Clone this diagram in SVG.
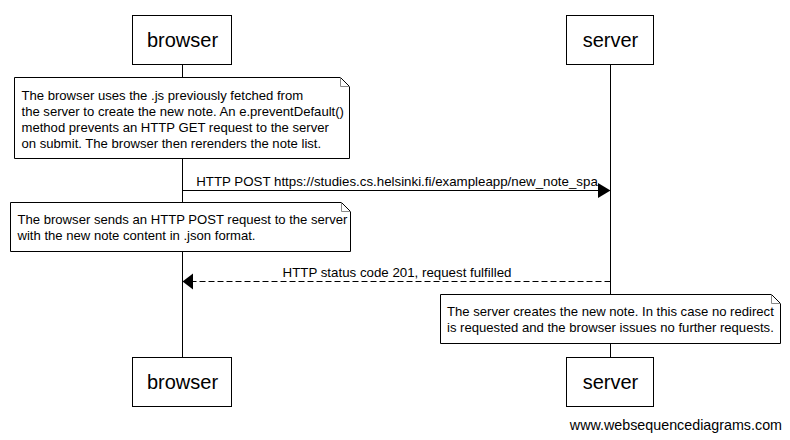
<svg xmlns="http://www.w3.org/2000/svg" width="790" height="440" viewBox="0 0 790 440">
<style>
.box{fill:#fff;stroke:#000;stroke-width:1}
.life{stroke:#000;stroke-width:1}
.note{fill:#fff;stroke:#000;stroke-width:1}
.fold{fill:none;stroke:#888;stroke-width:1}
.pname{font-family:"Liberation Sans",Arial,sans-serif;font-size:20px;fill:#000;text-anchor:middle}
.ntext{font-family:"Liberation Sans",Arial,sans-serif;font-size:13.1px;fill:#000}
.mlabel{font-family:"Liberation Sans",Arial,sans-serif;font-size:13.3px;fill:#000;text-anchor:middle}
.msg{stroke:#000;stroke-width:1;fill:none}
.dash{stroke-dasharray:6,3}
.wm{font-family:"Liberation Sans",Arial,sans-serif;font-size:14.3px;fill:#000;text-anchor:end}
</style>
<rect width="790" height="440" fill="#fff"/>
<g id="lifelines">
<line class="life" x1="182.5" y1="64" x2="182.5" y2="357"/>
<line class="life" x1="610.5" y1="64" x2="610.5" y2="357"/>
</g>
<g id="browser-top">
<rect class="box" x="132.5" y="15.5" width="99" height="49"/>
<text class="pname" x="182.5" y="47">browser</text>
</g>
<g id="server-top">
<rect class="box" x="566.5" y="15.5" width="87" height="49"/>
<text class="pname" x="610.5" y="47">server</text>
</g>
<g id="note1">
<path class="note" d="M14.5,77.5 H340.5 L349.5,86.5 V158.5 H14.5 Z"/>
<path class="fold" d="M340.5,77.5 V86.5 H349.5"/>
<text class="ntext" x="21.5" y="99.5">The browser uses the .js previously fetched from</text>
<text class="ntext" x="21.5" y="115.5">the server to create the new note. An e.preventDefault()</text>
<text class="ntext" x="21.5" y="131.5">method prevents an HTTP GET request to the server</text>
<text class="ntext" x="21.5" y="147.5">on submit. The browser then rerenders the note list.</text>
</g>
<g id="connectors">
<line class="msg" x1="182.5" y1="190.5" x2="599" y2="190.5"/>
<polygon points="598,183 610.5,190.5 598,198" fill="#000"/>
<text class="mlabel" x="397" y="186">HTTP POST https://studies.cs.helsinki.fi/exampleapp/new_note_spa</text>
<line class="msg dash" x1="610.5" y1="281.5" x2="192" y2="281.5"/>
<polygon points="193,273.5 182.5,281.5 193,289.5" fill="#000"/>
<text class="mlabel" x="397" y="277">HTTP status code 201, request fulfilled</text>
</g>
<g id="note2">
<path class="note" d="M10.5,202.5 H341.5 L350.5,211.5 V251.5 H10.5 Z"/>
<path class="fold" d="M341.5,202.5 V211.5 H350.5"/>
<text class="ntext" x="17.5" y="223.5">The browser sends an HTTP POST request to the server</text>
<text class="ntext" x="17.5" y="239.5">with the new note content in .json format.</text>
</g>
<g id="note3">
<path class="note" d="M440.5,294.5 H771.5 L780.5,303.5 V343.5 H440.5 Z"/>
<path class="fold" d="M771.5,294.5 V303.5 H780.5"/>
<text class="ntext" x="447" y="316">The server creates the new note. In this case no redirect</text>
<text class="ntext" x="447" y="332">is requested and the browser issues no further requests.</text>
</g>
<g id="browser-bottom">
<rect class="box" x="132.5" y="357.5" width="99" height="49"/>
<text class="pname" x="182.5" y="389">browser</text>
</g>
<g id="server-bottom">
<rect class="box" x="566.5" y="357.5" width="87" height="49"/>
<text class="pname" x="610.5" y="389">server</text>
</g>
<text class="wm" x="782" y="430">www.websequencediagrams.com</text>
</svg>
